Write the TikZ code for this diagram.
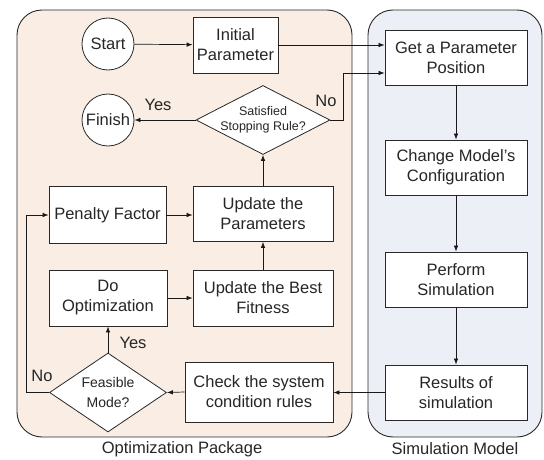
\documentclass[tikz,border=0pt]{standalone}
\usepackage{fontspec}
\setmainfont{Liberation Sans}
\usetikzlibrary{shapes.geometric,arrows.meta}
\definecolor{peach}{RGB}{250,238,228}
\definecolor{paleblue}{RGB}{236,240,246}
\definecolor{edge}{RGB}{40,40,40}
\begin{document}
\begin{tikzpicture}[x=1pt,y=-1pt,
  every node/.style={font=\fontsize{16.5}{20}\selectfont, text=black!85},
  box/.style={draw=edge, fill=white, line width=0.8pt, align=center, inner sep=1pt},
  term/.style={circle, draw=edge, fill=white, line width=0.8pt, minimum size=52pt, inner sep=0pt},
  dec/.style={diamond, draw=edge, fill=white, line width=0.8pt, align=center},
  panel/.style={draw=edge, line width=0.9pt, rounded corners=25pt},
  conn/.style={draw=black!90, line width=0.7pt, -{Latex[length=6pt,width=4.5pt]}},
  lbl/.style={font=\fontsize{16.5}{20}\selectfont}
]
\useasboundingbox (0,0) rectangle (544,460);
% panels
\draw[panel, fill=peach] (17,10) rectangle (352,437);
\draw[panel, fill=paleblue] (368,10) rectangle (542,437);
\node[lbl] (optlbl) at (182,449) {Optimization Package};
\node[lbl] (simlbl) at (455,449) {Simulation Model};

% optimization nodes
\node[term] (start) at (108,44) {Start};
\node[term] (finish) at (108,120) {Finish};
\node[box, minimum width=85pt, minimum height=56pt] (init) at (235.5,45) {Initial\\Parameter};
\node[dec, aspect=1.94, inner sep=-2pt, minimum width=134pt, minimum height=69pt, font=\fontsize{12.5}{15}\selectfont] (sat) at (263,120) {Satisfied\\Stopping Rule?};
\node[box, minimum width=117pt, minimum height=57pt] (pen) at (107.5,215) {Penalty Factor};
\node[box, minimum width=140pt, minimum height=55pt] (upd) at (263,214) {Update the\\Parameters};
\node[box, minimum width=118pt, minimum height=56pt] (doopt) at (108,298) {Do\\Optimization};
\node[box, minimum width=140pt, minimum height=56pt] (best) at (263,298) {Update the Best\\Fitness};
\node[dec, aspect=1.48, inner sep=-1pt, minimum width=117pt, minimum height=79pt, font=\fontsize{14}{20}\selectfont] (feas) at (108,392.5) {Feasible\\Mode?};
\node[box, minimum width=148pt, minimum height=60pt] (check) at (259,392) {Check the system\\condition rules};

% simulation nodes
\node[box, minimum width=142pt, minimum height=55pt] (get) at (456,57.5) {Get a Parameter\\Position};
\node[box, minimum width=142pt, minimum height=55pt] (chg) at (456,167.5) {Change Model's\\Configuration};
\node[box, minimum width=142pt, minimum height=55pt] (perf) at (456,279.5) {Perform\\Simulation};
\node[box, minimum width=142pt, minimum height=55pt] (res) at (456,392.5) {Results of\\simulation};

% connectors
\draw[conn] (start) -- (init);
\draw[conn] (init.east) -- (init.east -| get.west);
\draw[conn] (sat.east) -- ++(13,0) |- ([yshift=-15.5pt]get.west);
\node[lbl] (nolbl1) at (326,101) {No};
\draw[conn] (sat.west) -- (finish.east);
\node[lbl] (yeslbl1) at (158,105) {Yes};
\draw[conn] (upd.north) -- (sat.south);
\draw[conn] (pen.east) -- (pen.east -| upd.west);
\draw[conn] (doopt.east) -- (best.west);
\draw[conn] (best.north) -- (upd.south);
\draw[conn] (feas.north) -- (doopt.south);
\node[lbl] (yeslbl2) at (133,343) {Yes};
\draw[conn] (feas.west) -- ++(-23,0) |- (pen.west);
\node[lbl] (nolbl2) at (42,376) {No};
\draw[conn] (check.west) -- (feas.east);
\draw[conn] (res.west) -- (res.west -| check.east);
\draw[conn] (get) -- (chg);
\draw[conn] (chg) -- (perf);
\draw[conn] (perf) -- (res);
\end{tikzpicture}
\end{document}
